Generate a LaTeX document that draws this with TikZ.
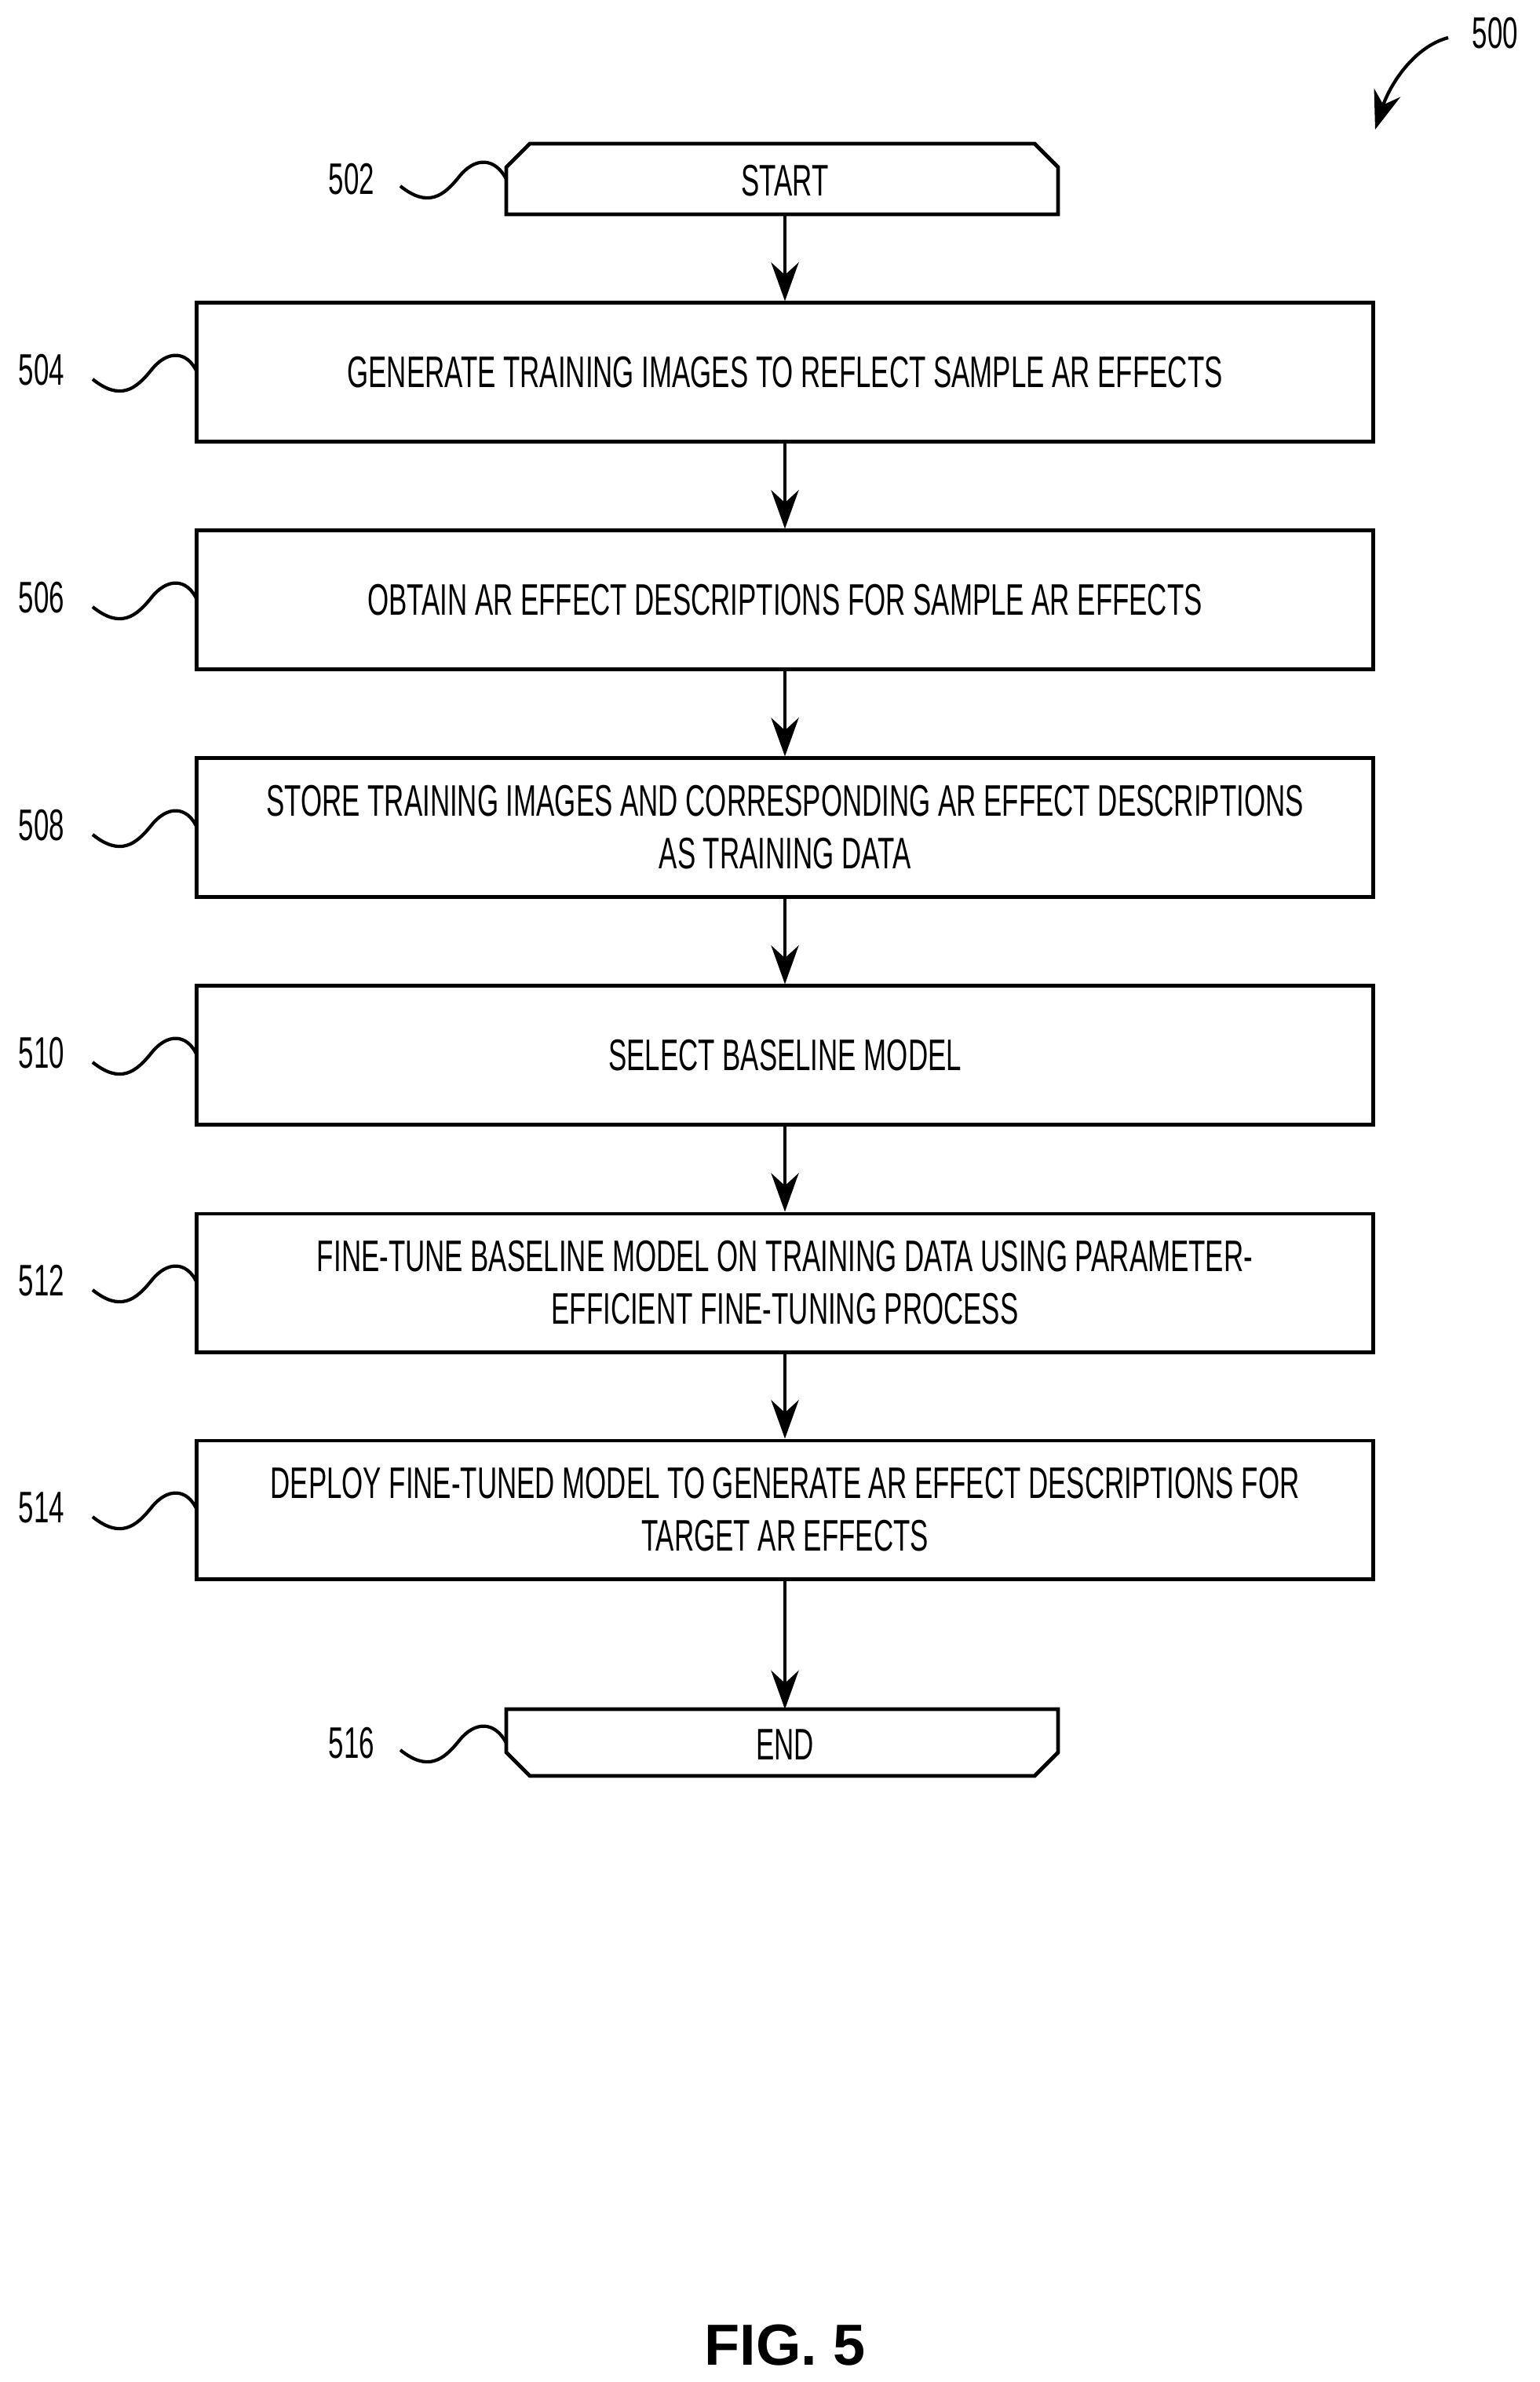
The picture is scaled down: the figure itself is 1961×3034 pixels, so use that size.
\documentclass[tikz,border=0pt]{standalone}
\usepackage{fontspec}
\setmainfont{Liberation Sans}[FakeStretch=0.62]
\newfontfamily\figfont{Liberation Sans}
\usetikzlibrary{arrows.meta}
\begin{document}
\begin{tikzpicture}[x=0.01cm,y=-0.01cm,
  box/.style={draw,line width=1.4pt,minimum width=14.98cm,minimum height=1.76cm,align=center,font=\fontsize{16}{19}\selectfont,inner sep=0pt},
  lab/.style={font=\fontsize{16}{19}\selectfont},
  arr/.style={-{Stealth[length=14pt,width=10pt]},line width=1.2pt},
  sq/.style={line width=1.2pt}]
\useasboundingbox (0,0) rectangle (1961,3034);
% start
\draw[line width=1.4pt] (645,273) -- (645,213) -- (675,183) -- (1318,183) -- (1348,213) -- (1348,273) -- cycle;
\node[lab] (st) at (1000,230) {START};
\coordinate (stb) at (1000,273);
\draw[line width=1.4pt] (645,2177) -- (1348,2177) -- (1348,2232) -- (1318,2262) -- (675,2262) -- (645,2232) -- cycle;
\node[lab] (en) at (1000,2222) {END};
\coordinate (ent) at (1000,2177);
\node[box] (b4) at (1000,474) {GENERATE TRAINING IMAGES TO REFLECT SAMPLE AR EFFECTS};
\node[box] (b6) at (1000,764) {OBTAIN AR EFFECT DESCRIPTIONS FOR SAMPLE AR EFFECTS};
\node[box] (b8) at (1000,1054) {STORE TRAINING IMAGES AND CORRESPONDING AR EFFECT DESCRIPTIONS\\AS TRAINING DATA};
\node[box] (b10) at (1000,1344) {SELECT BASELINE MODEL};
\node[box] (b12) at (1000,1634) {FINE-TUNE BASELINE MODEL ON TRAINING DATA USING PARAMETER-\\EFFICIENT FINE-TUNING PROCESS};
\node[box] (b14) at (1000,1923) {DEPLOY FINE-TUNED MODEL TO GENERATE AR EFFECT DESCRIPTIONS FOR\\TARGET AR EFFECTS};
\draw[arr] (stb) -- (b4);
\draw[arr] (b4) -- (b6);
\draw[arr] (b6) -- (b8);
\draw[arr] (b8) -- (b10);
\draw[arr] (b10) -- (b12);
\draw[arr] (b12) -- (b14);
\draw[arr] (b14) -- (ent);
% labels
\node[lab] (l502) at (448,228) {502};
\coordinate (s502) at (510,237);
\draw[sq] (s502) .. controls (545,265) and (565,250) .. (585,225) .. controls (605,200) and (630,200) .. (645,228);
\node[lab] (l516) at (448,2220) {516};
\coordinate (s516) at (510,2229);
\draw[sq] (s516) .. controls (545,2257) and (565,2242) .. (585,2217) .. controls (605,2192) and (630,2192) .. (645,2220);
\foreach \n/\y in {504/474,506/764,508/1054,510/1344,512/1634,514/1923}{
  \node[lab] (l\n) at (53,\y-3) {\n};
  \draw[sq] (118,\y+9) .. controls (153,\y+37) and (173,\y+22) .. (193,\y-3) .. controls (213,\y-28) and (238,\y-28) .. (251,\y);
}
\node[lab] (l500) at (1905,42) {500};
\coordinate (a500) at (1845,48);
\coordinate (e500) at (1752,165);
\draw[arr] (a500) .. controls (1800,60) and (1770,110) .. (e500);
\node[font=\figfont\bfseries\fontsize{21}{24}\selectfont] (fig) at (1000,2987) {FIG. 5};
\end{tikzpicture}
\end{document}
